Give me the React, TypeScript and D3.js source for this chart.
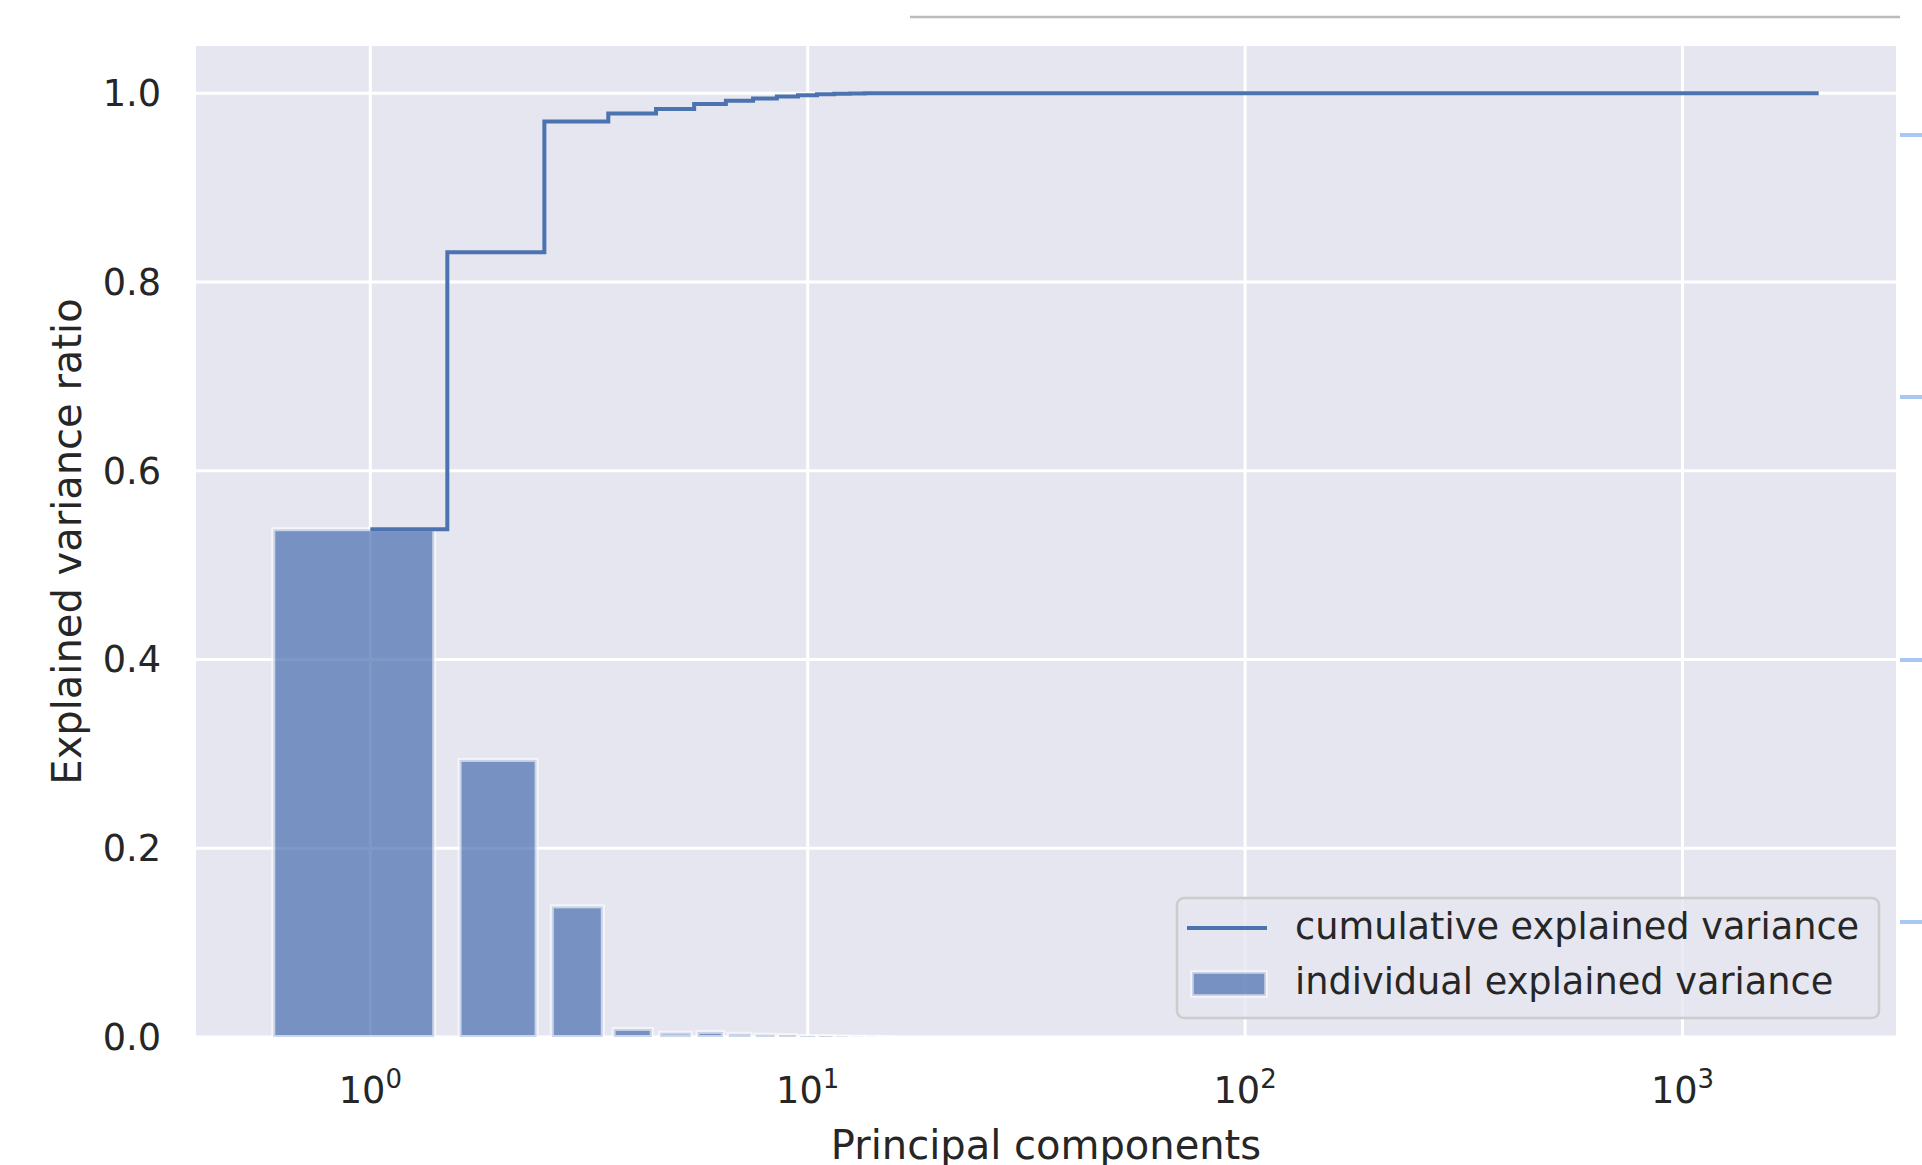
import React from 'react';
import * as d3 from 'd3';

// ---- data ----
const explainedVarianceRatio = [
  0.538, 0.2936, 0.1384, 0.0086, 0.0046, 0.0054, 0.0034, 0.0025,
  0.0021, 0.0011, 0.0011, 0.0006, 0.0003, 0.0002, 0.0001,
];
const totalComponents = 2048;
const barWidth = 0.8;
const yTicks = [0, 0.2, 0.4, 0.6, 0.8, 1.0];
const yTickLabels = ['0.0', '0.2', '0.4', '0.6', '0.8', '1.0'];
const xTickExponents = [0, 1, 2, 3];
const legendLabels = ['cumulative explained variance', 'individual explained variance'];
const xLabel = 'Principal components';
const yLabel = 'Explained variance ratio';
const sideMarks = [135, 397, 660, 922];

const BLUE = '#4C72B0';
const BG = '#E6E6F0';
const TXT = '#262626';
const FONT = "'DejaVu Sans', sans-serif";

export default function App() {
  const W = 1922, H = 1165;
  const left = 196, right = 1896, top = 46, bottom = 1037;

  const lo = Math.log10(1 - barWidth / 2);
  const hi = Math.log10(totalComponents + barWidth / 2);
  const m = (hi - lo) * 0.05;
  const x = d3.scaleLog().domain([10 ** (lo - m), 10 ** (hi + m)]).range([left, right]);
  const y = d3.scaleLinear().domain([0, 1.05]).range([bottom, top]);

  const cumulative = Array.from(d3.cumsum(explainedVarianceRatio));
  const pts: [number, number][] = [[1, cumulative[0]]];
  for (let k = 2; k <= cumulative.length; k++) {
    pts.push([k - 0.5, cumulative[k - 2]]);
    pts.push([k - 0.5, cumulative[k - 1]]);
  }
  pts.push([totalComponents, cumulative[cumulative.length - 1]]);
  const line = d3.line<[number, number]>().x(d => x(d[0])).y(d => y(d[1]));

  const bars = explainedVarianceRatio.map((v, i) => {
    const c = i + 1;
    const x0 = x(c - barWidth / 2), x1 = x(c + barWidth / 2);
    return { x: x0, w: x1 - x0, y: y(v), h: y(0) - y(v) };
  });

  const tickFs = 36.7;
  const labelFs = 40;

  return (
    <svg width={W} height={H} style={{ position: 'absolute', left: 0, top: 0, background: '#fff' }}
      fontFamily={FONT}>
      <defs>
        <clipPath id="plotclip">
          <rect x={left} y={top} width={right - left} height={bottom - top} />
        </clipPath>
      </defs>
      {/* screenshot decorations */}
      <line x1={910} x2={1900} y1={17} y2={17} stroke="#BBBBBB" strokeWidth={2.5} />
      {sideMarks.map((sy, i) => (
        <line key={i} x1={1900} x2={1922} y1={sy} y2={sy} stroke="#A8C8F2" strokeWidth={4} />
      ))}

      <rect x={left} y={top} width={right - left} height={bottom - top} fill={BG} />
      <g clipPath="url(#plotclip)">
        {yTicks.map((t, i) => (
          <line key={'gy' + i} x1={left} x2={right} y1={y(t)} y2={y(t)} stroke="#fff" strokeWidth={3} />
        ))}
        {xTickExponents.map((e, i) => (
          <line key={'gx' + i} x1={x(10 ** e)} x2={x(10 ** e)} y1={top} y2={bottom} stroke="#fff" strokeWidth={3} />
        ))}
        {bars.map((b, i) => (
          <rect key={'b' + i} x={b.x} y={b.y} width={b.w} height={b.h}
            fill={BLUE} fillOpacity={0.72} stroke="#fff" strokeOpacity={0.6} strokeWidth={4} />
        ))}
        <path d={line(pts) || ''} fill="none" stroke={BLUE} strokeWidth={4} />
      </g>

      {/* y tick labels */}
      {yTicks.map((t, i) => (
        <text key={'yt' + i} x={161} y={y(t) + 13} textAnchor="end" fontSize={tickFs} fill={TXT}>
          {yTickLabels[i]}
        </text>
      ))}
      {/* x tick labels */}
      {xTickExponents.map((e, i) => (
        <text key={'xt' + i} x={x(10 ** e)} y={1103} textAnchor="middle" fontSize={tickFs} fill={TXT}>
          <tspan>10</tspan>
          <tspan dy={-15} fontSize={26}>{e}</tspan>
        </text>
      ))}

      <text x={(left + right) / 2} y={1159} textAnchor="middle" fontSize={labelFs} fill={TXT}>{xLabel}</text>
      <text transform={`translate(81, ${(top + bottom) / 2}) rotate(-90)`} textAnchor="middle"
        fontSize={labelFs} fill={TXT}>{yLabel}</text>

      {/* legend */}
      <g>
        <rect x={1177} y={898} width={702} height={120} rx={7} fill={BG} fillOpacity={0.8}
          stroke="#CCCCCC" strokeWidth={2.5} />
        <line x1={1187} x2={1267} y1={928} y2={928} stroke={BLUE} strokeWidth={4} />
        <rect x={1192} y={972} width={74} height={24} fill={BLUE} fillOpacity={0.72}
          stroke="#fff" strokeOpacity={0.6} strokeWidth={3.5} />
        <text x={1295} y={939} fontSize={tickFs} fill={TXT}>{legendLabels[0]}</text>
        <text x={1295} y={994} fontSize={tickFs} fill={TXT}>{legendLabels[1]}</text>
      </g>
    </svg>
  );
}
